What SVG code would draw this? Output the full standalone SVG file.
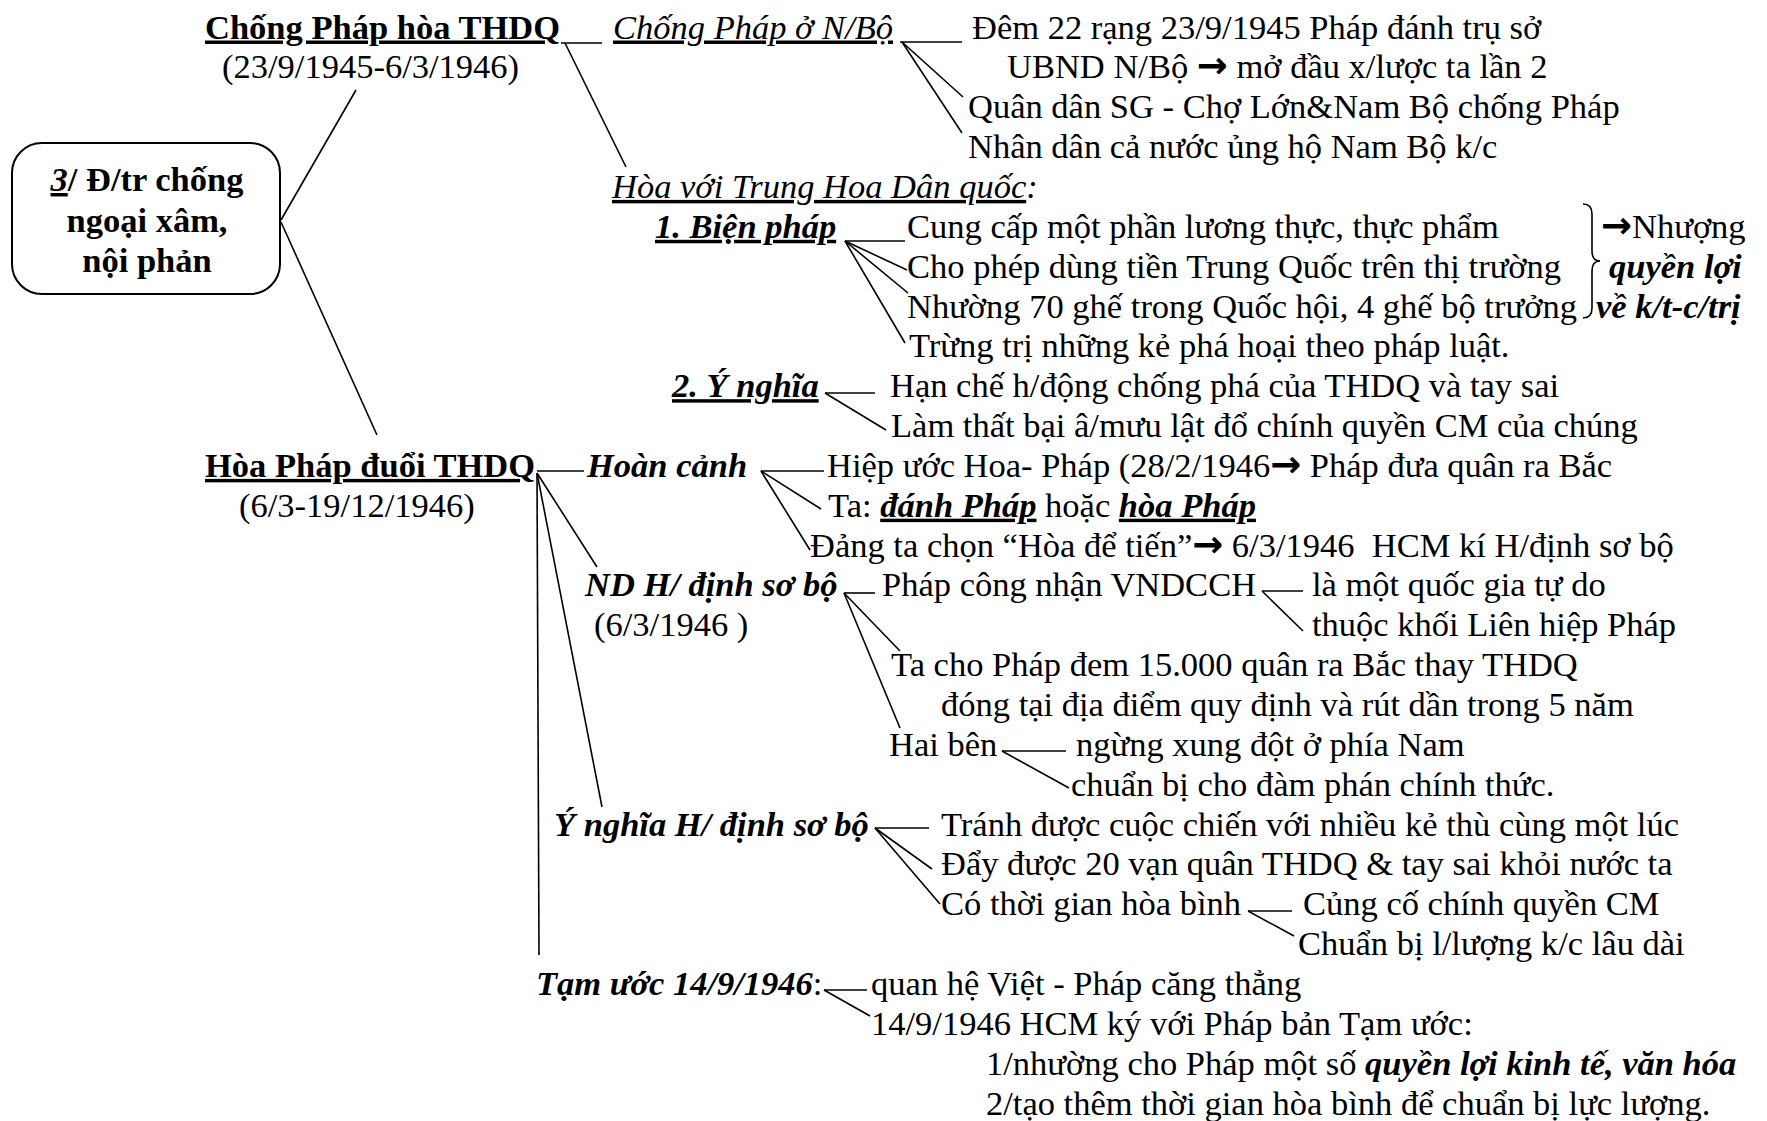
<svg xmlns="http://www.w3.org/2000/svg" width="1767" height="1121" viewBox="0 0 1767 1121">
<style>
text{font-family:"Liberation Serif","Times New Roman",serif;font-size:34.5px;fill:#000}
.b{font-weight:bold}
.i{font-style:italic}
.u{text-decoration:underline;text-decoration-thickness:1.8px}
.b.u,.u .b,.bu{text-decoration-thickness:3px}
.ar{font-family:"DejaVu Sans",sans-serif;font-weight:bold;font-size:37px}
#connectors line,#connectors path{stroke:#000;stroke-width:1.6;fill:none}
</style>
<rect width="1767" height="1121" fill="#fff"/>
<g id="connectors">
<line x1="281" y1="220" x2="356" y2="90"/>
<line x1="281" y1="222" x2="377" y2="435"/>
<line x1="561" y1="43" x2="602" y2="43"/>
<line x1="565" y1="43" x2="626" y2="167"/>
<line x1="900" y1="42" x2="962" y2="42"/>
<line x1="902" y1="42" x2="963" y2="97"/>
<line x1="902" y1="42" x2="962" y2="133"/>
<line x1="845" y1="241" x2="905" y2="241"/>
<line x1="845" y1="241" x2="907" y2="270"/>
<line x1="845" y1="241" x2="908" y2="293"/>
<line x1="845" y1="241" x2="905" y2="343"/>
<line x1="825" y1="393" x2="875" y2="393"/>
<line x1="825" y1="393" x2="886" y2="430"/>
<line x1="537" y1="471" x2="584" y2="471"/>
<line x1="537" y1="473" x2="539" y2="955"/>
<line x1="537" y1="473" x2="597" y2="567"/>
<line x1="537" y1="473" x2="602" y2="807"/>
<line x1="761" y1="471" x2="824" y2="471"/>
<line x1="761" y1="471" x2="821" y2="509"/>
<line x1="761" y1="471" x2="810" y2="550"/>
<line x1="844" y1="593" x2="875" y2="593"/>
<line x1="844" y1="593" x2="900" y2="651"/>
<line x1="844" y1="593" x2="900" y2="728"/>
<line x1="1262" y1="591" x2="1303" y2="591"/>
<line x1="1262" y1="591" x2="1303" y2="631"/>
<line x1="1002" y1="751" x2="1066" y2="751"/>
<line x1="1002" y1="751" x2="1069" y2="788"/>
<line x1="875" y1="828" x2="929" y2="828"/>
<line x1="875" y1="828" x2="932" y2="869"/>
<line x1="875" y1="828" x2="940" y2="904"/>
<line x1="1248" y1="911" x2="1292" y2="911"/>
<line x1="1248" y1="911" x2="1294" y2="936"/>
<line x1="824" y1="990" x2="867" y2="990"/>
<line x1="824" y1="990" x2="870" y2="1016"/>
<path d="M1583,204 Q1592,204 1592,214 L1592,251 Q1592,261 1600,261 Q1592,261 1592,271 L1592,308 Q1592,318 1583,318"/>
</g>
<g id="root">
<rect x="12" y="143" width="268" height="151" rx="30" ry="30" fill="#fff" stroke="#000" stroke-width="2"/>
<text x="147" y="191" text-anchor="middle" class="b"><tspan class="i u bu">3</tspan>/ Đ/tr chống</text>
<text x="147" y="232" text-anchor="middle" class="b">ngoại xâm,</text>
<text x="147" y="272" text-anchor="middle" class="b">nội phản</text>
</g>
<g id="n-chong-phap">
<text x="205" y="38.5" class="b u">Chống Pháp hòa THDQ</text>
<text x="222" y="78.4">(23/9/1945-6/3/1946)</text>
</g>
<g id="n-nambo">
<text x="613" y="38.5" class="i u">Chống Pháp ở N/Bộ</text>
</g>
<g id="n-nambo-items">
<text x="972" y="38.5">Đêm 22 rạng 23/9/1945 Pháp đánh trụ sở</text>
<text x="1007" y="78.4">UBND N/Bộ <tspan class="ar">→</tspan> mở đầu x/lược ta lần 2</text>
<text x="968" y="118.2">Quân dân SG - Chợ Lớn&amp;Nam Bộ chống Pháp</text>
<text x="968" y="158.1">Nhân dân cả nước ủng hộ Nam Bộ k/c</text>
</g>
<g id="n-hoa-thdq">
<text x="612" y="197.9" class="i"><tspan class="u">Hòa với Trung Hoa Dân quốc</tspan>:</text>
</g>
<g id="n-bien-phap">
<text x="655" y="237.8" class="b i u">1. Biện pháp</text>
</g>
<g id="n-bien-phap-items">
<text x="907" y="237.8">Cung cấp một phần lương thực, thực phẩm</text>
<text x="907" y="277.6">Cho phép dùng tiền Trung Quốc trên thị trường</text>
<text x="907" y="317.5">Nhường 70 ghế trong Quốc hội, 4 ghế bộ trưởng</text>
<text x="909" y="357.3">Trừng trị những kẻ phá hoại theo pháp luật.</text>
</g>
<g id="n-nhuong">
<text x="1601" y="237.8"><tspan class="ar">→</tspan>Nhượng</text>
<text x="1609" y="277.6" class="b i">quyền lợi</text>
<text x="1596" y="317.5" class="b i">về k/t-c/trị</text>
</g>
<g id="n-y-nghia-1">
<text x="672" y="397.2" class="b i u">2. Ý nghĩa</text>
</g>
<g id="n-y-nghia-1-items">
<text x="890" y="397.2">Hạn chế h/động chống phá của THDQ và tay sai</text>
<text x="891" y="437">Làm thất bại â/mưu lật đổ chính quyền CM của chúng</text>
</g>
<g id="n-hoa-phap">
<text x="205" y="476.9" class="b u">Hòa Pháp đuổi THDQ</text>
<text x="239" y="516.7">(6/3-19/12/1946)</text>
</g>
<g id="n-hoan-canh">
<text x="587" y="476.9" class="b i">Hoàn cảnh</text>
</g>
<g id="n-hoan-canh-items">
<text x="827" y="476.9">Hiệp ước Hoa- Pháp (28/2/1946<tspan class="ar">→</tspan> Pháp đưa quân ra Bắc</text>
<text x="828" y="516.7">Ta: <tspan class="b i u bu">đánh Pháp</tspan> hoặc <tspan class="b i u bu">hòa Pháp</tspan></text>
<text x="810" y="556.6" xml:space="preserve">Đảng ta chọn “Hòa để tiến”<tspan class="ar">→</tspan> 6/3/1946  HCM kí H/định sơ bộ</text>
</g>
<g id="n-nd-hdsb">
<text x="585" y="596.4" class="b i">ND H/ định sơ bộ</text>
<text x="594" y="636.3">(6/3/1946 )</text>
</g>
<g id="n-nd-items">
<text x="882" y="596.4">Pháp công nhận VNDCCH</text>
<text x="1312" y="596.4">là một quốc gia tự do</text>
<text x="1312" y="636.3">thuộc khối Liên hiệp Pháp</text>
<text x="891" y="676.1">Ta cho Pháp đem 15.000 quân ra Bắc thay THDQ</text>
<text x="941" y="716">đóng tại địa điểm quy định và rút dần trong 5 năm</text>
<text x="889" y="755.8">Hai bên</text>
<text x="1076" y="755.8">ngừng xung đột ở phía Nam</text>
<text x="1071" y="795.7">chuẩn bị cho đàm phán chính thức.</text>
</g>
<g id="n-y-nghia-hdsb">
<text x="554" y="835.5" class="b i">Ý nghĩa H/ định sơ bộ</text>
</g>
<g id="n-y-nghia-items">
<text x="941" y="835.5">Tránh được cuộc chiến với nhiều kẻ thù cùng một lúc</text>
<text x="941" y="875.4">Đẩy được 20 vạn quân THDQ &amp; tay sai khỏi nước ta</text>
<text x="941" y="915.2">Có thời gian hòa bình</text>
<text x="1303" y="915.2">Củng cố chính quyền CM</text>
<text x="1298" y="955.1">Chuẩn bị l/lượng k/c lâu dài</text>
</g>
<g id="n-tam-uoc">
<text x="536" y="994.9"><tspan class="b i">Tạm ước 14/9/1946</tspan>:</text>
</g>
<g id="n-tam-uoc-items">
<text x="871" y="994.9">quan hệ Việt - Pháp căng thẳng</text>
<text x="871" y="1034.8">14/9/1946 HCM ký với Pháp bản Tạm ước:</text>
<text x="986" y="1074.6">1/nhường cho Pháp một số <tspan class="b i">quyền lợi kinh tế, văn hóa</tspan></text>
<text x="986" y="1114.5">2/tạo thêm thời gian hòa bình để chuẩn bị lực lượng.</text>
</g>
</svg>
